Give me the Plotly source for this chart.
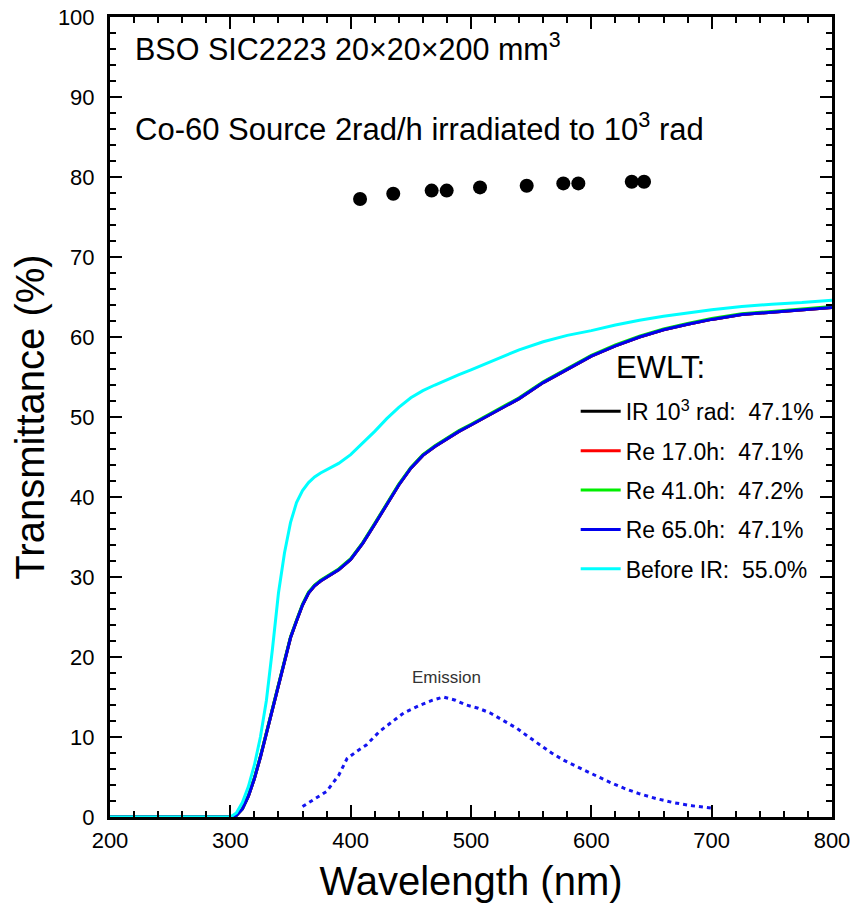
import plotly.graph_objects as go

# ---------------- data ----------------
wavelength = [200, 250, 300, 305, 310, 315, 320, 325, 330, 335, 340, 345, 350, 355, 360, 365,
              370, 375, 380, 390, 400, 410, 420, 430, 440, 450, 460, 470, 480, 490, 500, 520,
              540, 560, 580, 600, 620, 640, 660, 680, 700, 725, 750, 775, 800]

before_ir = [0, 0, 0, 0.5, 1.8, 3.8, 6.5, 10, 14.6, 21, 28, 33, 36.8, 39.3, 40.8, 41.8,
             42.5, 43, 43.4, 44.2, 45.3, 46.7, 48.2, 49.8, 51.2, 52.4, 53.3, 54, 54.7, 55.3, 55.9, 57.2,
             58.4, 59.4, 60.2, 60.8, 61.5, 62.1, 62.6, 63.0, 63.4, 63.8, 64.1, 64.3, 64.6]

ir_1e3 = [0, 0, 0, 0.2, 1, 2.6, 4.8, 7.5, 10.5, 13.5, 16.3, 19.5, 22.4, 24.5, 26.5, 28,
          28.9, 29.5, 30, 30.9, 32.2, 34.2, 36.6, 39, 41.5, 43.6, 45.2, 46.3, 47.3, 48.2, 49, 50.7,
          52.3, 54.3, 56, 57.6, 58.9, 60, 60.9, 61.6, 62.2, 62.8, 63.1, 63.4, 63.7]
re_17h = [0, 0, 0, 0.2, 1, 2.6, 4.8, 7.5, 10.5, 13.5, 16.3, 19.5, 22.4, 24.5, 26.5, 28,
          28.9, 29.5, 30, 30.9, 32.2, 34.2, 36.6, 39, 41.5, 43.6, 45.2, 46.3, 47.3, 48.2, 49, 50.7,
          52.3, 54.3, 56, 57.6, 58.9, 60, 60.9, 61.6, 62.2, 62.8, 63.1, 63.4, 63.7]
re_41h = [0, 0, 0, 0.2, 1, 2.7, 4.9, 7.6, 10.6, 13.6, 16.4, 19.6, 22.5, 24.6, 26.6, 28.1,
          29.0, 29.6, 30.1, 31.0, 32.3, 34.3, 36.7, 39.1, 41.6, 43.7, 45.3, 46.4, 47.4, 48.3, 49.1, 50.8,
          52.4, 54.4, 56.1, 57.7, 59.0, 60.1, 61.0, 61.7, 62.3, 62.9, 63.2, 63.5, 63.8]
re_65h = [0, 0, 0, 0.2, 1, 2.6, 4.8, 7.5, 10.5, 13.5, 16.3, 19.5, 22.4, 24.5, 26.5, 28,
          28.9, 29.5, 30, 30.9, 32.2, 34.2, 36.6, 39, 41.5, 43.6, 45.2, 46.3, 47.3, 48.2, 49, 50.7,
          52.3, 54.3, 56, 57.6, 58.9, 60, 60.9, 61.6, 62.2, 62.8, 63.1, 63.4, 63.7]

emission_wl = [360, 370, 380, 390, 397, 405, 413, 424, 435, 444, 458, 468, 477, 487, 496, 506,
               516, 527, 538, 548, 557, 567, 577, 588, 599, 613, 627, 640, 654, 668, 684, 700]
emission = [1.3, 2.2, 3.2, 5.2, 7.3, 8.2, 9.0, 10.7, 12.0, 13.0, 14.0, 14.6, 15.0, 14.6, 14.0, 13.6,
            13.0, 12.0, 11.1, 10.0, 9.0, 8.0, 7.1, 6.3, 5.5, 4.5, 3.6, 2.9, 2.3, 1.8, 1.4, 1.1]

dot_wl = [407.8, 435.4, 467.3, 479.8, 507.5, 546.3, 576.7, 589.2, 633.6, 643.8]
dot_t = [77.25, 77.9, 78.3, 78.3, 78.7, 78.9, 79.2, 79.2, 79.4, 79.4]

series_names = ["IR 10<sup>3</sup> rad:\u00a0\u00a047.1%", "Re 17.0h:\u00a0\u00a047.1%",
                "Re 41.0h:\u00a0\u00a047.2%", "Re 65.0h:\u00a0\u00a047.1%", "Before IR:\u00a0\u00a055.0%"]
series_values = [ir_1e3, re_17h, re_41h, re_65h, before_ir]
series_colors = ["#000000", "#FF0000", "#00EE00", "#0000EE", "#00FFFF"]

FONT = "Arial, Liberation Sans, Helvetica, sans-serif"

fig = go.Figure()

for i, (name, vals, col) in enumerate(zip(series_names, series_values, series_colors)):
    fig.add_trace(go.Scatter(x=wavelength, y=vals, mode="lines", name=name,
                             line=dict(color=col, width=3), legendgroup=f"g{i}"))

fig.add_trace(go.Scatter(x=emission_wl, y=emission, mode="lines", showlegend=False,
                         line=dict(color="#1414F0", width=3, dash="4px,4px")))

fig.add_trace(go.Scatter(x=dot_wl, y=dot_t, mode="markers", showlegend=False,
                         marker=dict(color="black", size=14)))

fig.add_annotation(x=480, y=17.5, xref="x", yref="y", text="Emission", showarrow=False,
                   font=dict(size=17, color="#333333", family=FONT))
fig.add_annotation(x=219, y=96.3, xref="x", yref="y", xanchor="left", showarrow=False,
                   text="BSO SIC2223 20\u00d720\u00d7200 mm<sup>3</sup>",
                   font=dict(size=30.5, color="black", family=FONT))
fig.add_annotation(x=219, y=86.3, xref="x", yref="y", xanchor="left", showarrow=False,
                   text="Co-60 Source 2rad/h irradiated to 10<sup>3</sup> rad",
                   font=dict(size=31, color="black", family=FONT))
fig.add_annotation(x=619, y=56.2, xref="x", yref="y", xanchor="left", showarrow=False,
                   text="EWLT:", font=dict(size=31, color="black", family=FONT))

axis_common = dict(showline=True, linecolor="black", linewidth=3, mirror="ticks",
                   ticks="inside", ticklen=12, tickwidth=2, tickcolor="black",
                   showgrid=False, zeroline=False, automargin=False,
                   ticklabeloverflow="allow",
                   tickfont=dict(size=22, color="black", family=FONT))

fig.update_xaxes(range=[200, 800], tickmode="linear", tick0=200, dtick=100,
                 minor=dict(dtick=20, tick0=200, ticks="inside", ticklen=6, tickwidth=2, tickcolor="black"),
                 title=dict(text="Wavelength (nm)", font=dict(size=40, color="black", family=FONT), standoff=15),
                 ticklabelstandoff=2,
                 **axis_common)
fig.update_yaxes(range=[0, 100], tickmode="linear", tick0=0, dtick=10,
                 minor=dict(dtick=2, tick0=0, ticks="inside", ticklen=6, tickwidth=2, tickcolor="black"),
                 title=dict(text="Transmittance (%)", font=dict(size=40, color="black", family=FONT), standoff=1),
                 ticklabelstandoff=8,
                 **axis_common)

fig.update_layout(
    width=856, height=904,
    margin=dict(l=110, r=24, t=17, b=87),
    paper_bgcolor="white", plot_bgcolor="white",
    font=dict(family=FONT, color="black"),
    showlegend=True,
    legend=dict(x=0.645, y=0.534, xanchor="left", yanchor="top",
                bgcolor="rgba(0,0,0,0)", borderwidth=0,
                font=dict(size=23, color="black", family=FONT),
                tracegroupgap=6.5, itemwidth=40),
)

# remove the page's default 8px body margin so the figure fills the window exactly
fig.write_html("out.html", config={"displayModeBar": False},
               post_script="document.body.style.margin='0';")
